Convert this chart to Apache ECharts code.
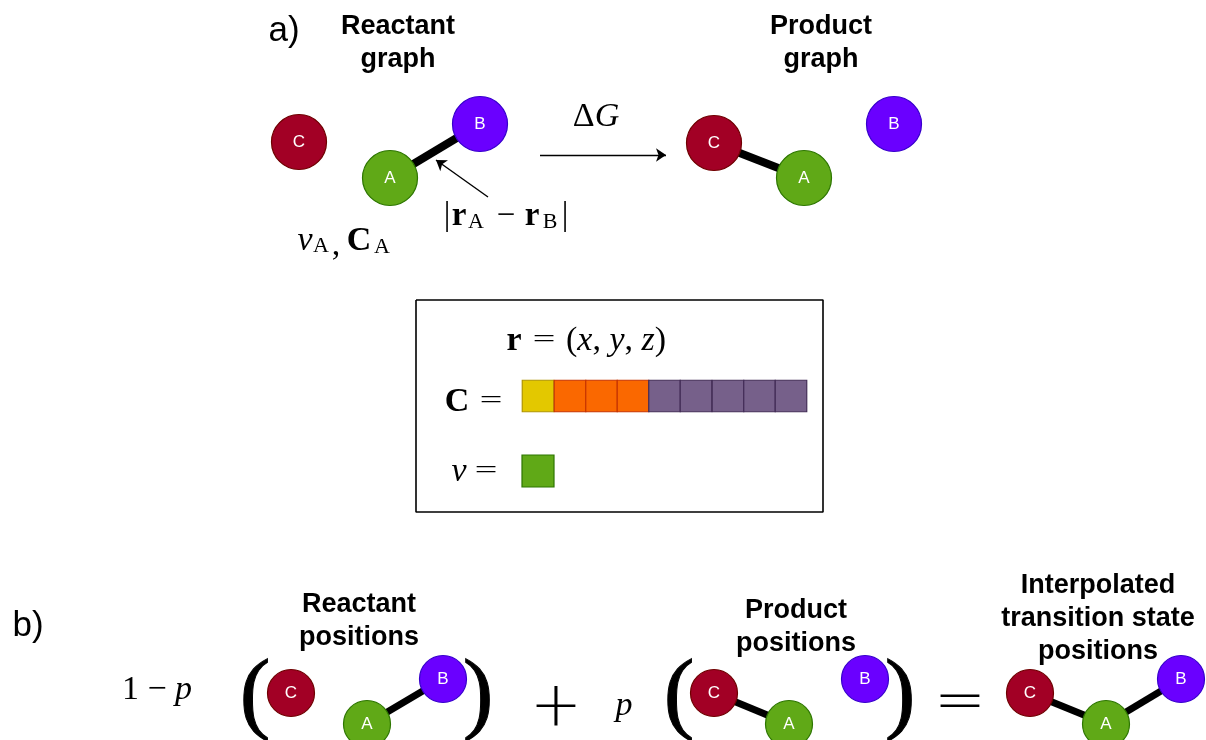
<!DOCTYPE html>
<html><head><meta charset="utf-8">
<style>html,body{margin:0;padding:0;background:#fff}#c{width:1206px;height:740px}</style>
<script src="https://cdn.jsdelivr.net/npm/echarts@6/dist/echarts.min.js"></script></head>
<body><div id="c"></div>
<script>
// ---- diagram data (page pixel scale of the hidden axes) ----
const atomA = [[390,178],[804,178],[367,724],[789,724],[1106,724]];
const atomB = [[480,124],[894,124],[443,679],[865,679],[1181,679]];
const atomC = [[299,142],[714,143],[291,693],[714,693],[1030,693]];
const atomIsLarge = [true,true,false,false,false];
const bonds = [[0,'A','B'],[1,'A','C'],[2,'A','B'],[3,'A','C'],[4,'A','B'],[4,'A','C']];
const cellCenters = [538,570,601.5,633,664.5,696,728,759.5,791];
const cellKinds = ['y','o','o','o','p','p','p','p','p'];
const frame = [[416,300],[823,300],[823,512],[416,512],[416,300]];
const arrows = [[[540,155],[666,155]],[[488,197],[436,160]]];
const sansBold = [
  ['Reactant\ngraph',398,43],['Product\ngraph',821,43],
  ['Reactant\npositions',359,621],['Product\npositions',796,627],
  ['Interpolated\ntransition state\npositions',1098,619]];
const panelLabels = [['a)',284,31],['b)',28,626]];
const mathMain = [
  ['{i|ν}',305,241],['{n|,}',336,246],['{b|C}',359,241],
  ['{n|Δ}{i|G}',596,117],
  ['{n|(}{i|x}{n|, }{i|y}{n|, }{i|z}{n|)}',616,341],
  ['{b|r}',514,341],
  ['{b|C}',457,402],
  ['{i|ν}',459,472],
  ['{n|1 − }{i|p}',157,690],['{i|p}',624,706]];
const mathBond = [['{n||}',447,216],['{b|r}',459,216],['{n|−}',506,216],['{b|r}',532,216],['{n||}',565,216]];
const mathSubs = [['A',321,246],['A',382,247],['A',476,222],['B',550,222]];
const smallEquals = [['=',544,340],['=',491,401],['=',486,471]];
const bigParens = [['(',255,698],[')',478,698],['(',679,698],[')',900,698]];
const bigOps = [['+',556,709],['=',960,704]];

const colors = {A:['#60a917','#2d7600'],B:['#6a00ff','#3700cc'],C:['#a20025','#6f0000'],
  y:['#e3c800','#b09500'],o:['#fa6800','#c73500'],p:['#76608a','#432d57'],g:['#60a917','#2d7600']};
const pos = {A:atomA,B:atomB,C:atomC};
const SERIF='"Liberation Serif",serif', SANS='"Liberation Sans",sans-serif';
const LIGHT='"DejaVu Sans ExtraLight","DejaVu Sans Light","DejaVu Sans",sans-serif';

function atomSeries(k){
  return {type:'scatter',name:k,z:3,silent:true,symbol:'circle',
    itemStyle:{color:colors[k][0],borderColor:colors[k][1],borderWidth:1.2,opacity:1},
    label:{show:true,position:'inside',formatter:k,color:'#fff',fontFamily:SANS,fontSize:17},
    data:pos[k].map((p,i)=>({value:p,symbolSize:atomIsLarge[i]?55:47}))};
}
function textSeries(rows,fontFamily,fontSize,extra){
  return {type:'scatter',z:5,silent:true,symbolSize:0,clip:false,itemStyle:{opacity:1},
    data:rows.map(r=>({value:[r[1],r[2]],
      label:Object.assign({show:true,position:'inside',formatter:r[0],color:'#000',
        align:'center',verticalAlign:'middle',fontFamily,fontSize},extra||{})}))};
}
function mathRich(s){return {rich:{
  n:{fontFamily:SERIF,fontSize:s,color:'#000'},
  i:{fontFamily:SERIF,fontSize:s,fontStyle:'italic',color:'#000'},
  b:{fontFamily:SERIF,fontSize:s,fontWeight:'bold',color:'#000'}}};}

const series = [];
bonds.forEach(b=>{
  series.push({type:'line',z:1,silent:true,symbol:'none',animation:false,
    lineStyle:{color:'#000',width:b[0]<2?8:7},
    data:[pos[b[1]][b[0]],pos[b[2]][b[0]]]});
});
series.push(atomSeries('A'),atomSeries('B'),atomSeries('C'));
series.push({type:'line',z:1,silent:true,symbol:'none',lineStyle:{color:'#000',width:1.6},data:frame});
series.push({type:'scatter',z:2,silent:true,symbol:'rect',symbolSize:31.5,itemStyle:{opacity:1},
  data:cellCenters.map((x,i)=>({value:[x,396],itemStyle:{color:colors[cellKinds[i]][0],borderColor:colors[cellKinds[i]][1],borderWidth:1.2,opacity:1}}))});
series.push({type:'scatter',z:2,silent:true,symbol:'rect',symbolSize:32,itemStyle:{opacity:1},
  data:[{value:[538,471],itemStyle:{color:colors.g[0],borderColor:colors.g[1],borderWidth:1.2,opacity:1}}]});
series.push({type:'lines',coordinateSystem:'cartesian2d',z:4,silent:true,symbol:['none','arrow'],symbolSize:10,
  lineStyle:{color:'#000',width:1.4,opacity:1},data:arrows.map(a=>({coords:a}))});
series.push(textSeries(sansBold,SANS,27,{fontWeight:'bold',lineHeight:33}));
series.push(textSeries(panelLabels,SANS,35));
series.push(textSeries(mathMain,SERIF,34,mathRich(34)));
series.push(textSeries(mathBond,SERIF,33,mathRich(33)));
series.push(textSeries(mathSubs,SERIF,22));
series.push(textSeries(smallEquals,LIGHT,30));
series.push(textSeries(bigParens,SERIF,92,{textBorderColor:'#000',textBorderWidth:1}));
series.push(textSeries(bigOps,LIGHT,62));

const chart = echarts.init(document.getElementById('c'),null,{renderer:'canvas'});
chart.setOption({animation:false,backgroundColor:'#fff',
  grid:{left:0,right:0,top:0,bottom:0},
  xAxis:{type:'value',min:0,max:1206,show:false},
  yAxis:{type:'value',min:0,max:740,inverse:true,show:false},
  tooltip:{show:false},legend:{show:false},
  series});
</script></body></html>
